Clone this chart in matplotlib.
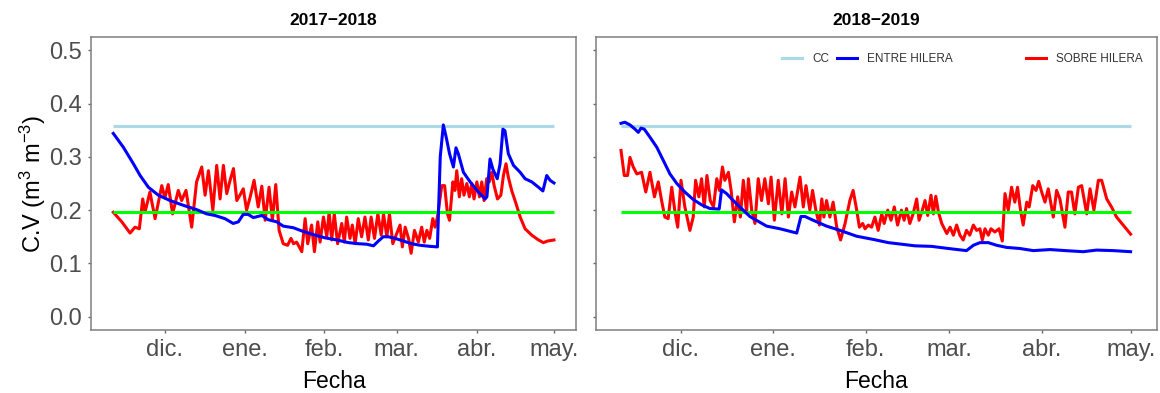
import matplotlib
matplotlib.use('Agg')
import matplotlib.pyplot as plt
from matplotlib.lines import Line2D
import pandas as pd

plt.rcParams['font.family'] = ['Liberation Sans', 'DejaVu Sans']
plt.rcParams['mathtext.fontset'] = 'custom'
plt.rcParams['mathtext.rm'] = 'Liberation Sans'
plt.rcParams['mathtext.it'] = 'Liberation Sans:italic'

CC = 0.358   # capacidad de campo
PMP = 0.197  # linea verde de referencia

meses = ['dic.', 'ene.', 'feb.', 'mar.', 'abr.', 'may.']

# dias contados desde el 1 de diciembre de cada temporada
dias_entre_1718 = [-19.9, -16, -12.1, -9.5, -6.3, -2.4, 2.1, 7.3, 12.4, 16.3, 19.5, 23.4,
                   26.6, 28.6, 30.5, 32.4, 34.4, 37.7, 40.2, 43.5, 46, 49.9, 53.2, 57.7,
                   62.2, 66.8, 71.3, 75.1, 78.4, 81, 82.9, 84.8, 86.8, 89.4, 92.6, 95.8,
                   99.1, 103, 105.8, 106.9, 108.1, 109.2, 110.5, 112, 113, 113.9, 115.9,
                   118.5, 121.7, 124.3, 125, 126.2, 127.3, 129, 130.1, 131.2, 132, 133.3,
                   135.3, 137.9, 139.8, 142.4, 145, 146.7, 148.2, 149.5, 151]
cv_entre_1718 = [0.344, 0.318, 0.287, 0.265, 0.243, 0.228, 0.218, 0.209, 0.201, 0.193, 0.190, 0.184,
                 0.175, 0.178, 0.192, 0.192, 0.186, 0.190, 0.182, 0.178, 0.170, 0.167, 0.161, 0.154,
                 0.148, 0.144, 0.139, 0.137, 0.136, 0.133, 0.142, 0.150, 0.150, 0.147, 0.142, 0.137,
                 0.134, 0.132, 0.131, 0.300, 0.360, 0.337, 0.306, 0.281, 0.317, 0.306, 0.271,
                 0.253, 0.234, 0.221, 0.225, 0.296, 0.277, 0.259, 0.287, 0.352, 0.349, 0.306,
                 0.284, 0.271, 0.259, 0.253, 0.243, 0.236, 0.265, 0.256, 0.251]

dias_sobre_1718 = [-19.9, -16.6, -13.4, -11.5, -9.8, -8.5, -7.6, -5.7, -3.7, -1.1, 0.1, 1.4,
                   3.1, 5.3, 6.6, 8.3, 10.5, 12.4, 14.4, 15.7, 17.0, 18.7, 20.2, 21.5, 22.8,
                   24.1, 25.4, 26.7, 28.0, 29.2, 30.5, 31.8, 33.2, 34.7, 36.3, 37.7, 39.0,
                   40.5, 41.8, 43.1, 44.4, 46.0, 47.7, 49.0, 50.0, 51.2, 53.2, 54.5, 55.5,
                   57.0, 58.1, 59.4, 60.3, 61.6, 62.9, 63.8, 64.8, 65.8, 67.1, 68.7, 69.7,
                   70.6, 71.9, 72.8, 73.9, 75.1, 76.4, 77.7, 79.0, 80.1, 81.4, 82.7, 84.0,
                   84.9, 86.2, 87.2, 88.5, 90.0, 91.3, 92.2, 93.3, 94.6, 95.6, 96.9, 98.4,
                   99.7, 100.7, 101.7, 102.8, 104.0, 104.9, 105.8, 107.5, 108.6, 109.7, 110.5,
                   111.8, 112.6, 113.3, 114.3, 115.2, 116.1, 117.2, 118.2, 119.1, 120.0, 121.1,
                   122.1, 123.0, 123.9, 124.9, 125.9, 126.9, 127.8, 129.1, 130.4, 131.4, 132.4,
                   133.3, 134.6, 136.3, 137.9, 139.8, 142.4, 145.0, 146.9, 148.5, 151.0]
cv_sobre_1718 = [0.196, 0.178, 0.157, 0.168, 0.165, 0.221, 0.196, 0.234, 0.184, 0.246, 0.223, 0.248,
                 0.193, 0.237, 0.218, 0.237, 0.168, 0.253, 0.281, 0.228, 0.274, 0.200, 0.284, 0.221, 0.284,
                 0.231, 0.256, 0.278, 0.218, 0.228, 0.240, 0.200, 0.225, 0.256, 0.206, 0.245, 0.181,
                 0.243, 0.181, 0.248, 0.162, 0.137, 0.134, 0.147, 0.137, 0.140, 0.122, 0.184, 0.137,
                 0.172, 0.122, 0.178, 0.140, 0.187, 0.150, 0.196, 0.144, 0.193, 0.137, 0.175, 0.140,
                 0.187, 0.147, 0.172, 0.137, 0.184, 0.150, 0.187, 0.144, 0.187, 0.147, 0.193, 0.153,
                 0.193, 0.150, 0.193, 0.137, 0.156, 0.172, 0.131, 0.168, 0.147, 0.119, 0.162, 0.140,
                 0.168, 0.140, 0.162, 0.147, 0.184, 0.168, 0.187, 0.246, 0.246, 0.193, 0.181,
                 0.253, 0.237, 0.274, 0.225, 0.259, 0.228, 0.250, 0.225, 0.250, 0.221, 0.253,
                 0.225, 0.253, 0.218, 0.259, 0.253, 0.271, 0.246, 0.221, 0.228, 0.265, 0.287,
                 0.262, 0.237, 0.212, 0.187, 0.165, 0.153, 0.144, 0.139, 0.142, 0.144]

dias_entre_1819 = [-20, -18.7, -17, -15.3, -14.2, -13.3, -12.2, -10.3, -8, -5.8, -3.6, -1.3,
                   1.4, 4.2, 7.0, 9.8, 12.9, 13.7, 15.4, 17.6, 20.4, 23.2, 28.8, 33.3, 38.9,
                   40.3, 41.7, 44.4, 48.9, 53.4, 59.0, 64.6, 69.6, 74.1, 78.5, 84.1, 89.7,
                   95.8, 98.1, 100.3, 103.1, 105.9, 109.3, 113.7, 118.2, 123.8, 129.0, 134.9,
                   139.4, 145.0, 150.8]
cv_entre_1819 = [0.363, 0.365, 0.360, 0.352, 0.346, 0.354, 0.352, 0.337, 0.318, 0.293, 0.268, 0.250,
                 0.234, 0.220, 0.210, 0.203, 0.202, 0.238, 0.231, 0.218, 0.203, 0.188, 0.170, 0.165, 0.157,
                 0.188, 0.188, 0.181, 0.170, 0.162, 0.151, 0.145, 0.139, 0.136, 0.133, 0.132, 0.128,
                 0.124, 0.134, 0.139, 0.139, 0.134, 0.130, 0.128, 0.124, 0.126, 0.124, 0.122,
                 0.125, 0.124, 0.122]

dias_sobre_1819 = [-20.0, -18.9, -17.8, -17.0, -15.9, -14.7, -13.1, -11.7, -10.3, -8.8, -7.5, -6.4,
                   -5.3, -4.2, -3.0, -1.9, -1.0, 0.1, 1.4, 3.1, 4.2, 5.0, 6.1, 7.0, 7.9, 8.8,
                   9.9, 11.0, 12.1, 13.0, 14.0, 14.8, 16.0, 16.9, 18.0, 19.1, 20.0, 21.0, 22.1,
                   22.7, 23.8, 24.9, 26.0, 27.1, 28.2, 29.4, 30.3, 31.4, 32.7, 33.9, 35.0, 36.1,
                   37.2, 38.3, 40.0, 41.1, 42.0, 43.3, 44.2, 45.3, 46.5, 47.3, 48.0, 48.9, 50.0,
                   51.1, 52.3, 53.6, 55.1, 56.7, 57.8, 59.0, 59.9, 61.0, 61.8, 62.9, 64.0, 65.1,
                   66.2, 67.4, 68.2, 69.4, 70.5, 71.6, 72.7, 74.0, 74.9, 75.7, 76.8, 77.9, 79.1,
                   79.9, 81.0, 81.9, 82.8, 83.9, 84.7, 85.5, 86.4, 87.5, 89.2, 90.3, 91.4, 92.5,
                   93.6, 94.7, 95.8, 96.9, 98.1, 99.2, 100.3, 101.1, 102.0, 103.1, 104.0, 105.3,
                   106.7, 107.8, 108.7, 109.8, 110.9, 112.0, 112.9, 113.9, 114.8, 116.0, 116.8,
                   118.0, 119.1, 120.0, 121.0, 122.1, 123.2, 124.9, 126.0, 127.1, 128.8, 129.9,
                   131.0, 132.1, 133.3, 134.4, 136.1, 137.2, 138.5, 140.0, 141.1, 142.8, 144.4,
                   146.1, 148.3, 150.8]
cv_sobre_1819 = [0.312, 0.265, 0.265, 0.299, 0.281, 0.268, 0.271, 0.234, 0.271, 0.225, 0.253, 0.218,
                 0.187, 0.184, 0.243, 0.196, 0.168, 0.256, 0.206, 0.162, 0.187, 0.256, 0.225, 0.259, 0.206, 0.265,
                 0.218, 0.206, 0.259, 0.237, 0.281, 0.256, 0.271, 0.237, 0.178, 0.225, 0.187, 0.256, 0.196,
                 0.259, 0.200, 0.175, 0.259, 0.218, 0.259, 0.212, 0.262, 0.181, 0.256, 0.193, 0.259, 0.187,
                 0.234, 0.206, 0.262, 0.206, 0.246, 0.200, 0.237, 0.200, 0.172, 0.221, 0.187, 0.218, 0.187,
                 0.215, 0.168, 0.144, 0.175, 0.218, 0.237, 0.200, 0.168, 0.175, 0.165, 0.172, 0.168, 0.187,
                 0.162, 0.193, 0.175, 0.200, 0.181, 0.206, 0.172, 0.200, 0.181, 0.203, 0.175, 0.193, 0.221,
                 0.181, 0.200, 0.218, 0.190, 0.228, 0.193, 0.226, 0.196, 0.175, 0.156, 0.168, 0.153, 0.172,
                 0.153, 0.144, 0.162, 0.153, 0.172, 0.162, 0.165, 0.144, 0.165, 0.153, 0.165, 0.159,
                 0.165, 0.142, 0.231, 0.200, 0.243, 0.215, 0.243, 0.200, 0.172, 0.215, 0.206,
                 0.246, 0.237, 0.254, 0.234, 0.215, 0.240, 0.187, 0.237, 0.221, 0.168, 0.234,
                 0.234, 0.193, 0.243, 0.246, 0.193, 0.240, 0.200, 0.256, 0.256, 0.221, 0.206,
                 0.187, 0.172, 0.155]


def panel(ax, inicio, d_entre, v_entre, d_sobre, v_sobre, titulo, etiquetas_y=True):
    base = pd.Timestamp(inicio)
    t_entre = base + pd.to_timedelta(d_entre, unit='D')
    t_sobre = base + pd.to_timedelta(d_sobre, unit='D')
    rango = [t_entre[0], t_entre[-1]]

    ax.plot(rango, [CC, CC], color='#ADD8E6', lw=2.3, solid_capstyle='butt')
    ax.plot(t_sobre, v_sobre, color='#FF0000', lw=2.2)
    ax.plot(rango, [PMP, PMP], color='#00FF00', lw=2.2, solid_capstyle='butt')
    ax.plot(t_entre, v_entre, color='#0000FF', lw=2.2)

    ax.set_xlim(base + pd.Timedelta(days=-28.55), base + pd.Timedelta(days=159.55))
    ax.set_xticks(pd.date_range(base, periods=6, freq='MS'))
    ax.set_xticklabels(meses)
    ax.set_ylim(-0.025, 0.525)
    ax.set_yticks([0.0, 0.1, 0.2, 0.3, 0.4, 0.5])
    ax.set_yticklabels(['0.0', '0.1', '0.2', '0.3', '0.4', '0.5'])

    ax.tick_params(length=2.4, width=1, color='#666666', labelsize=17,
                   labelcolor='#4D4D4D', pad=4.2)
    if not etiquetas_y:
        ax.tick_params(labelleft=False)
    for s in ax.spines.values():
        s.set_color('#7F7F7F')
        s.set_linewidth(1.1)

    ax.set_title(titulo, fontsize=12.5, fontweight='bold', pad=9)
    ax.set_xlabel('Fecha', fontsize=16.5, labelpad=6)


fig = plt.figure(figsize=(11.6, 3.93), dpi=100)
ax1 = fig.add_axes([91 / 1160, 63 / 393, 485 / 1160, 293 / 393])
ax2 = fig.add_axes([595.5 / 1160, 63 / 393, 561.2 / 1160, 293 / 393])

panel(ax1, '2017-12-01', dias_entre_1718, cv_entre_1718, dias_sobre_1718, cv_sobre_1718,
      '2017\u22122018')
panel(ax2, '2018-12-01', dias_entre_1819, cv_entre_1819, dias_sobre_1819, cv_sobre_1819,
      '2018\u22122019', etiquetas_y=False)

ax1.set_ylabel('C.V (m$^3$ m$^{-3}$)', fontsize=17, labelpad=1)

handles = [Line2D([], [], color='#ADD8E6', lw=2.3),
           Line2D([], [], color='#0000FF', lw=2.2),
           Line2D([], [], color='none'),
           Line2D([], [], color='#FF0000', lw=2.2)]
labels = ['CC', 'ENTRE HILERA', '        ', 'SOBRE HILERA']
ax2.legend(handles, labels, ncol=4, loc='center', bbox_to_anchor=(0.6536, 0.925),
           frameon=False, fontsize=8.5, handlelength=1.7, handletextpad=0.85,
           columnspacing=0.7, borderpad=0, borderaxespad=0, labelcolor='#333333')

fig.savefig('out.png', dpi=100)
